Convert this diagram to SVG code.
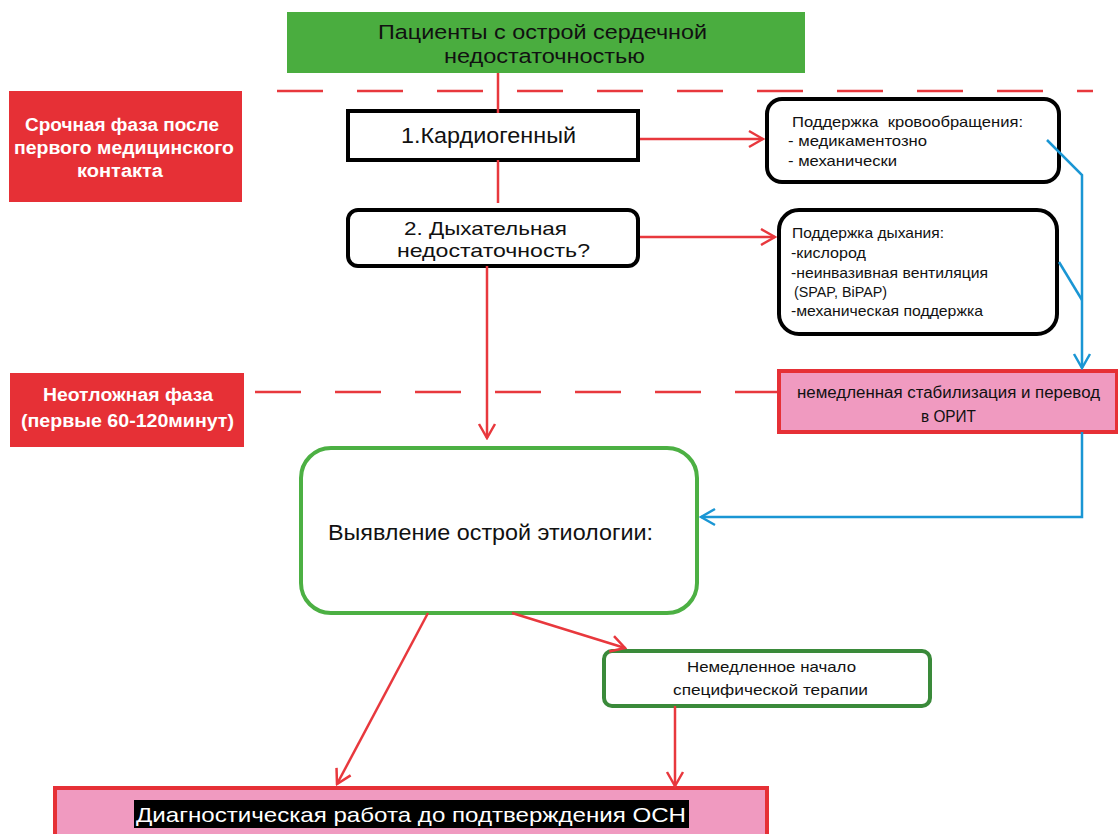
<svg xmlns="http://www.w3.org/2000/svg" width="1118" height="834" viewBox="0 0 1118 834">
<defs>
<marker id="ar" viewBox="0 0 20 20" refX="18" refY="10" markerWidth="20" markerHeight="20" markerUnits="userSpaceOnUse" orient="auto">
<polyline points="4,2 18,10 4,18" fill="none" stroke="#e8383d" stroke-width="2.5"/>
</marker>
<marker id="ab" viewBox="0 0 20 20" refX="18" refY="10" markerWidth="20" markerHeight="20" markerUnits="userSpaceOnUse" orient="auto">
<polyline points="4,2 18,10 4,18" fill="none" stroke="#1a96d4" stroke-width="2.5"/>
</marker>
</defs>
<style>
text{font-family:"Liberation Sans","Open Sans",Arial,sans-serif;fill:#111}
.big{font-size:20.5px}
.sm{font-size:15px}
.ph{font-size:17.5px;font-weight:bold;fill:#fff}
.red{stroke:#e8383d;stroke-width:2.5;fill:none}
.blue{stroke:#1a96d4;stroke-width:2.5;fill:none}
.dash{stroke:#e8383d;stroke-width:2.5;fill:none;stroke-dasharray:46 34}
.blk{fill:#fff;stroke:#000;stroke-width:4}
</style>
<rect width="1118" height="834" fill="#fff"/>

<g id="phases">
<line class="dash" x1="277" y1="91" x2="1093" y2="91"/>
<line class="dash" x1="255" y1="392" x2="778" y2="392"/>
</g>

<g id="n-start">
<rect x="287" y="12" width="518" height="61" fill="#4aad3f"/>
<text class="big" x="378" y="39" textLength="329" lengthAdjust="spacingAndGlyphs">Пациенты с острой сердечной</text>
<text class="big" x="444" y="63" textLength="201" lengthAdjust="spacingAndGlyphs">недостаточностью</text>
</g>

<g id="n-phase1">
<rect x="9" y="91" width="233" height="111" fill="#e63036"/>
<text class="ph" x="25" y="131" textLength="194" lengthAdjust="spacingAndGlyphs">Срочная фаза после</text>
<text class="ph" x="14" y="154" textLength="220" lengthAdjust="spacingAndGlyphs">первого медицинского</text>
<text class="ph" x="77" y="177" textLength="86" lengthAdjust="spacingAndGlyphs">контакта</text>
</g>

<g id="n-phase2">
<rect x="10" y="373" width="234" height="74" fill="#e63036"/>
<text class="ph" x="43" y="401" textLength="170" lengthAdjust="spacingAndGlyphs">Неотложная фаза</text>
<text class="ph" x="21" y="427" textLength="213" lengthAdjust="spacingAndGlyphs">(первые 60-120минут)</text>
</g>

<g id="n-cardio">
<rect class="blk" x="348" y="111" width="290" height="49"/>
<text x="401" y="143" font-size="22" textLength="175" lengthAdjust="spacingAndGlyphs">1.Кардиогенный</text>
</g>

<g id="n-resp">
<rect class="blk" x="348" y="210" width="290" height="56" rx="10"/>
<text x="404" y="235" font-size="19" textLength="163" lengthAdjust="spacingAndGlyphs">2. Дыхательная</text>
<text x="397" y="257" font-size="19" textLength="193" lengthAdjust="spacingAndGlyphs">недостаточность?</text>
</g>

<g id="n-circ">
<rect class="blk" x="767" y="99" width="292" height="83" rx="15"/>
<text class="sm" x="792" y="127" textLength="231" lengthAdjust="spacingAndGlyphs">Поддержка&#160; кровообращения:</text>
<text class="sm" x="788" y="146" textLength="139" lengthAdjust="spacingAndGlyphs">- медикаментозно</text>
<text class="sm" x="788" y="166" textLength="109" lengthAdjust="spacingAndGlyphs">- механически</text>
</g>

<g id="n-breath">
<rect class="blk" x="779" y="210" width="278" height="124" rx="20"/>
<text class="sm" x="792" y="238" textLength="152" lengthAdjust="spacingAndGlyphs">Поддержка дыхания:</text>
<text class="sm" x="791" y="258" textLength="75" lengthAdjust="spacingAndGlyphs">-кислород</text>
<text class="sm" x="791" y="278" textLength="197" lengthAdjust="spacingAndGlyphs">-неинвазивная вентиляция</text>
<text class="sm" x="794" y="297" textLength="93" lengthAdjust="spacingAndGlyphs">(SPAP, BiPAP)</text>
<text class="sm" x="791" y="316" textLength="192" lengthAdjust="spacingAndGlyphs">-механическая поддержка</text>
</g>

<g id="n-icu">
<rect x="779" y="371" width="338" height="61" fill="#f09ac0" stroke="#e63036" stroke-width="4"/>
<text x="797" y="398" font-size="16" textLength="303" lengthAdjust="spacingAndGlyphs">немедленная стабилизация и перевод</text>
<text x="921" y="422" font-size="16" textLength="55" lengthAdjust="spacingAndGlyphs">в ОРИТ</text>
</g>

<g id="n-etiology">
<rect x="301" y="448" width="396" height="165" rx="30" fill="#fff" stroke="#4cb043" stroke-width="4"/>
<text x="328" y="540" font-size="22" textLength="325" lengthAdjust="spacingAndGlyphs">Выявление острой этиологии:</text>
</g>

<g id="n-therapy">
<rect x="604" y="651" width="326" height="55" rx="8" fill="#fff" stroke="#3a8a3a" stroke-width="4"/>
<text class="sm" x="687" y="672" textLength="169" lengthAdjust="spacingAndGlyphs">Немедленное начало</text>
<text class="sm" x="673" y="695" textLength="195" lengthAdjust="spacingAndGlyphs">специфической терапии</text>
</g>

<g id="n-diag">
<rect x="55" y="788" width="712" height="60" fill="#f09ac0" stroke="#e63036" stroke-width="4"/>
<rect x="134" y="800" width="555" height="28" fill="#000"/>
<text x="136" y="822" font-size="21" style="fill:#fff" textLength="550" lengthAdjust="spacingAndGlyphs">Диагностическая работа до подтверждения ОСН</text>
</g>

<g id="connectors">
<line class="red" x1="498" y1="73" x2="498" y2="113"/>
<line class="red" x1="498" y1="160" x2="498" y2="203"/>
<line class="red" x1="640" y1="139" x2="763" y2="139" marker-end="url(#ar)"/>
<line class="red" x1="640" y1="237" x2="775" y2="237" marker-end="url(#ar)"/>
<line class="red" x1="487" y1="266" x2="487" y2="438" marker-end="url(#ar)"/>
<line class="red" x1="428" y1="613" x2="337" y2="784" marker-end="url(#ar)"/>
<line class="red" x1="512" y1="613" x2="625" y2="648" marker-end="url(#ar)"/>
<line class="red" x1="675" y1="706" x2="675" y2="786" marker-end="url(#ar)"/>
<polyline class="blue" points="1047,140 1082,175 1082,368" marker-end="url(#ab)"/>
<line class="blue" x1="1059" y1="262" x2="1082" y2="300"/>
<polyline class="blue" points="1082,432 1082,517 701,517" marker-end="url(#ab)"/>
</g>
</svg>
